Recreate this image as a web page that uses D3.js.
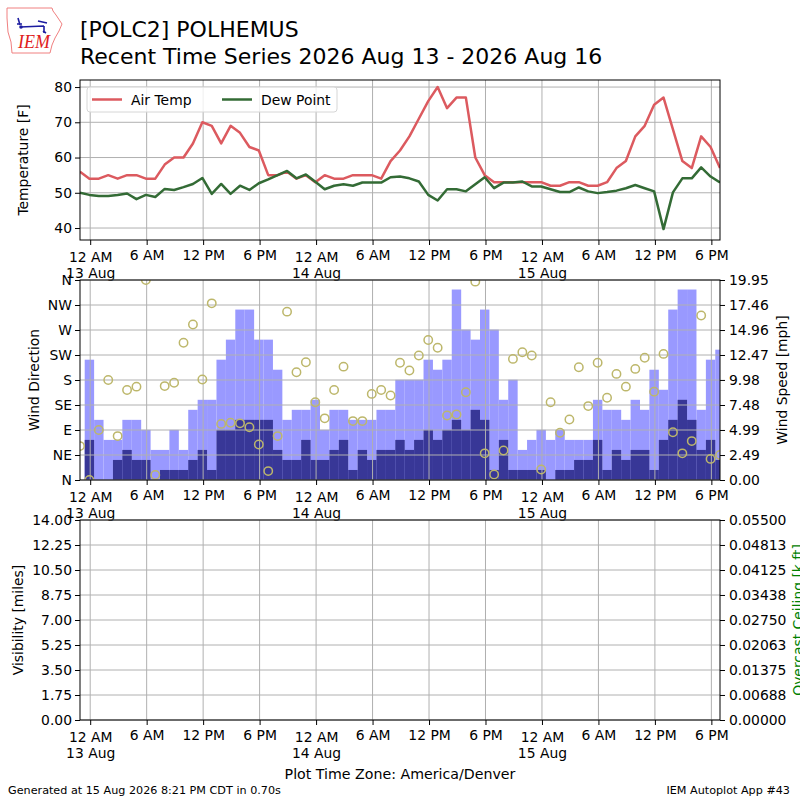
<!DOCTYPE html>
<html>
<head>
<meta charset="utf-8">
<script src="https://cdn.jsdelivr.net/npm/d3@7"></script>
<style>
  body { margin: 0; background: #ffffff; }
  svg { font-family: "DejaVu Sans", sans-serif; display: block; }
</style>
</head>
<body>
<div id="chart"></div>
<script>
// observation times, local (America/Denver) clock
const obsTimes = [
    "2026-08-12 22:55", "2026-08-12 23:55",
    "2026-08-13 00:55", "2026-08-13 01:55", "2026-08-13 02:55", "2026-08-13 03:55", "2026-08-13 04:55", "2026-08-13 05:55",
    "2026-08-13 06:55", "2026-08-13 07:55", "2026-08-13 08:55", "2026-08-13 09:55", "2026-08-13 10:55", "2026-08-13 11:55",
    "2026-08-13 12:55", "2026-08-13 13:55", "2026-08-13 14:55", "2026-08-13 15:55", "2026-08-13 16:55", "2026-08-13 17:55",
    "2026-08-13 18:55", "2026-08-13 19:55", "2026-08-13 20:55", "2026-08-13 21:55", "2026-08-13 22:55", "2026-08-13 23:55",
    "2026-08-14 00:55", "2026-08-14 01:55", "2026-08-14 02:55", "2026-08-14 03:55", "2026-08-14 04:55", "2026-08-14 05:55",
    "2026-08-14 06:55", "2026-08-14 07:55", "2026-08-14 08:55", "2026-08-14 09:55", "2026-08-14 10:55", "2026-08-14 11:55",
    "2026-08-14 12:55", "2026-08-14 13:55", "2026-08-14 14:55", "2026-08-14 15:55", "2026-08-14 16:55", "2026-08-14 17:55",
    "2026-08-14 18:55", "2026-08-14 19:55", "2026-08-14 20:55", "2026-08-14 21:55", "2026-08-14 22:55", "2026-08-14 23:55",
    "2026-08-15 00:55", "2026-08-15 01:55", "2026-08-15 02:55", "2026-08-15 03:55", "2026-08-15 04:55", "2026-08-15 05:55",
    "2026-08-15 06:55", "2026-08-15 07:55", "2026-08-15 08:55", "2026-08-15 09:55", "2026-08-15 10:55", "2026-08-15 11:55",
    "2026-08-15 12:55", "2026-08-15 13:55", "2026-08-15 14:55", "2026-08-15 15:55", "2026-08-15 16:55", "2026-08-15 17:55",
    "2026-08-15 18:55"
];

const airTemp = [
    56, 54, 54, 55, 54, 55, 55, 54, 54, 58, 60, 60, 64, 70, 69, 64, 69, 67, 63, 62,
    55, 55, 56, 54, 55, 53, 55, 54, 54, 55, 55, 55, 54, 59, 62, 66, 71, 76, 80, 74,
    77, 77, 60, 55, 53, 53, 53, 53, 53, 53, 52, 52, 53, 53, 52, 52, 53, 57, 59, 66,
    69, 75, 77, 68, 59, 57, 66, 63, 57
];

const dewPoint = [
    50.0, 49.4, 49.1, 49.1, 49.4, 49.8, 48.2, 49.4, 48.8, 51.1, 50.8, 51.6, 52.5, 54.2, 49.7, 52.5, 49.7, 52.0, 50.8, 52.7,
    53.8, 55.0, 56.2, 54.1, 55.2, 53.1, 51.0, 52.0, 52.4, 52.0, 52.9, 52.9, 52.9, 54.4, 54.6, 54.1, 53.2, 49.4, 47.8, 51.0,
    51.0, 50.4, 52.4, 54.4, 51.3, 52.9, 52.9, 53.2, 51.8, 51.8, 51.0, 50.2, 50.2, 51.5, 50.4, 49.9, 50.2, 50.6, 51.3, 52.2,
    51.3, 50.4, 39.7, 50.1, 54.1, 54.1, 57.2, 54.6, 52.9
];

// mph
const windSpeed = [
    0, 4, 0, 0, 2, 3, 2, 2, 0, 1, 1, 1, 2, 3, 1, 5, 5, 6, 6, 6,
    6, 3, 2, 2, 4, 2, 2, 3, 4, 1, 3, 2, 3, 3, 4, 3, 4, 5, 4, 5,
    6, 5, 7, 6, 1, 4, 1, 1, 1, 1, 0, 1, 1, 2, 2, 4, 1, 3, 2, 3,
    3, 1, 4, 6, 8, 6, 3, 4, 2
];

const windGust = [
    0, 12, 6, 4, 4, 6, 6, 5, 3, 3, 5, 3, 7, 8, 8, 12, 14, 17, 17, 14,
    14, 11, 6, 7, 7, 8, 5, 7, 7, 6, 6, 6, 7, 7, 10, 10, 10, 12, 11, 12,
    19, 15, 14, 17, 15, 8, 10, 3, 4, 5, 4, 5, 4, 4, 4, 8, 7, 7, 6, 8,
    7, 11, 9, 17, 19, 19, 7, 12, 13
];

// degrees
const windDir = [
    61, 0, 90, 180, 79, 162, 168, 360, 9, 169, 175, 247, 280, 181, 318, 101, 103, 102, 95, 64,
    16, 79, 303, 194, 212, 140, 111, 162, 204, 106, 106, 155, 162, 152, 211, 197, 224, 252, 238, 116,
    118, 158, 357, 48, 10, 53, 218, 230, 224, 19, 140, 85, 109, 203, 133, 211, 148, 191, 168, 200,
    220, 159, 227, 86, 48, 70, 296, 38, 45
];

const tempTicks = [40, 50, 60, 70, 80];
const dirTicks = ["N", "NE", "E", "SE", "S", "SW", "W", "NW", "N"];
const speedTicks = ["0.00", "2.49", "4.99", "7.48", "9.98", "12.47", "14.96", "17.46", "19.95"];
const visTicks = ["0.00", "1.75", "3.50", "5.25", "7.00", "8.75", "10.50", "12.25", "14.00"];
const ceilTicks = ["0.00000", "0.00688", "0.01375", "0.02063", "0.02750", "0.03438", "0.04125", "0.04813", "0.05500"];

const left = 80, right = 720;
const tempBox = {top: 80, bottom: 240};
const windBox = {top: 280, bottom: 480};
const visBox = {top: 520, bottom: 720};
const fontSize = 13.9;
const gridColor = "#b0b0b0";

const parseTime = d3.utcParse("%Y-%m-%d %H:%M");
const obs = obsTimes.map(function (s, i) {
    return {t: parseTime(s), tmpf: airTemp[i], dwpf: dewPoint[i],
        sknt: windSpeed[i], gust: windGust[i], drct: windDir[i]};
});

const svg = d3.select("#chart")
    .append("svg")
    .attr("width", 800)
    .attr("height", 800);

const x = d3.scaleUtc()
    .domain(d3.extent(obs, d => d.t))
    .range([left, right]);
const timeTicks = d3.utcHour.every(6).range(x.domain()[0], x.domain()[1]);

function hourLabel(d) {
    let h = d.getUTCHours();
    let h12 = h % 12 === 0 ? 12 : h % 12;
    return h12 + (h < 12 ? " AM" : " PM");
}

function addClip(id, box) {
    svg.append("defs").append("clipPath").attr("id", id)
        .append("rect")
        .attr("x", left).attr("y", box.top)
        .attr("width", right - left).attr("height", box.bottom - box.top);
}

function drawGrid(box, y, values) {
    let g = svg.append("g").attr("class", "grid");
    g.selectAll("line.v").data(timeTicks).join("line")
        .attr("class", "v")
        .attr("x1", d => x(d)).attr("x2", d => x(d))
        .attr("y1", box.top).attr("y2", box.bottom);
    g.selectAll("line.h").data(values).join("line")
        .attr("class", "h")
        .attr("x1", left).attr("x2", right)
        .attr("y1", d => y(d)).attr("y2", d => y(d));
    g.selectAll("line")
        .attr("stroke", gridColor)
        .attr("stroke-width", 1);
}

function drawFrame(box) {
    svg.append("rect")
        .attr("x", left).attr("y", box.top)
        .attr("width", right - left).attr("height", box.bottom - box.top)
        .attr("fill", "none")
        .attr("stroke", "#000")
        .attr("stroke-width", 1);
}

function styleAxis(ag) {
    ag.select(".domain").remove();
    ag.attr("font-family", null).attr("font-size", fontSize);
    ag.selectAll(".tick line").attr("stroke", "#000");
    ag.selectAll(".tick text").attr("fill", "#000");
}

function drawTimeAxis(box) {
    let axis = d3.axisBottom(x)
        .tickValues(timeTicks)
        .tickSize(5)
        .tickSizeOuter(0)
        .tickPadding(5)
        .tickFormat("");
    let ag = svg.append("g")
        .attr("transform", "translate(0," + box.bottom + ")")
        .call(axis);
    styleAxis(ag);
    ag.selectAll(".tick text").each(function (d) {
        let t = d3.select(this).attr("dy", null);
        if (d.getUTCHours() === 0) {
            t.append("tspan").attr("x", 0).attr("dy", "0.86em").text(hourLabel(d));
            t.append("tspan").attr("x", 0).attr("dy", "1.15em").text(d3.utcFormat("%-d %b")(d));
        } else {
            t.append("tspan").attr("x", 0).attr("dy", "0.71em").text(hourLabel(d));
        }
    });
}

function drawLeftAxis(y, values, labels) {
    let ag = svg.append("g")
        .attr("transform", "translate(" + left + ",0)")
        .call(d3.axisLeft(y).tickValues(values).tickSize(5).tickSizeOuter(0).tickPadding(3)
            .tickFormat((d, i) => labels[i]));
    styleAxis(ag);
}

function drawRightAxis(y, values, labels) {
    let ag = svg.append("g")
        .attr("transform", "translate(" + right + ",0)")
        .call(d3.axisRight(y).tickValues(values).tickSize(5).tickSizeOuter(0).tickPadding(4)
            .tickFormat((d, i) => labels[i]));
    styleAxis(ag);
}

function yLabel(text, cx, cy, color) {
    svg.append("text")
        .attr("transform", "translate(" + cx + "," + cy + ") rotate(-90)")
        .attr("text-anchor", "middle")
        .attr("dominant-baseline", "central")
        .attr("font-size", fontSize)
        .attr("fill", color || "#000")
        .text(text);
}

// ---- temperature panel
const yTemp = d3.scaleLinear().domain([36.6, 82]).range([tempBox.bottom, tempBox.top]);
addClip("clipTemp", tempBox);
drawGrid(tempBox, yTemp, tempTicks);

const tempLines = svg.append("g").attr("clip-path", "url(#clipTemp)");
tempLines.append("path")
    .datum(obs)
    .attr("fill", "none")
    .attr("stroke", "#dc5a5f")
    .attr("stroke-width", 2.5)
    .attr("stroke-linejoin", "round")
    .attr("d", d3.line().x(d => x(d.t)).y(d => yTemp(d.tmpf)));
tempLines.append("path")
    .datum(obs)
    .attr("fill", "none")
    .attr("stroke", "#336b35")
    .attr("stroke-width", 2.5)
    .attr("stroke-linejoin", "round")
    .attr("d", d3.line().x(d => x(d.t)).y(d => yTemp(d.dwpf)));

drawFrame(tempBox);
drawTimeAxis(tempBox);
drawLeftAxis(yTemp, tempTicks, tempTicks);
yLabel("Temperature [F]", 22.5, (tempBox.top + tempBox.bottom) / 2);

// legend
const legend = svg.append("g");
legend.append("rect")
    .attr("x", 87).attr("y", 87).attr("width", 250).attr("height", 25).attr("rx", 3)
    .attr("fill", "#fff").attr("fill-opacity", 0.8)
    .attr("stroke", "#d6d6d6");
[["Air Temp", "#dc5a5f", 92], ["Dew Point", "#336b35", 222]].forEach(function (item) {
    legend.append("line")
        .attr("x1", item[2]).attr("x2", item[2] + 30)
        .attr("y1", 99.5).attr("y2", 99.5)
        .attr("stroke", item[1]).attr("stroke-width", 2.5);
    legend.append("text")
        .attr("x", item[2] + 39).attr("y", 104.5)
        .attr("font-size", fontSize)
        .text(item[0]);
});

// ---- wind panel
const yDir = d3.scaleLinear().domain([0, 360]).range([windBox.bottom, windBox.top]);
const ySpeed = d3.scaleLinear().domain([0, 19.95]).range([windBox.bottom, windBox.top]);
const barW = x(d3.utcHour.offset(obs[0].t, 1)) - x(obs[0].t);
addClip("clipWind", windBox);

const bars = svg.append("g").attr("clip-path", "url(#clipWind)");
bars.selectAll("rect.gust").data(obs).join("rect")
    .attr("class", "gust")
    .attr("x", d => x(d.t) - barW / 2)
    .attr("width", barW)
    .attr("y", d => ySpeed(d.gust))
    .attr("height", d => ySpeed(0) - ySpeed(d.gust))
    .attr("fill", "#9999ff");
bars.selectAll("rect.sknt").data(obs).join("rect")
    .attr("class", "sknt")
    .attr("x", d => x(d.t) - barW / 2)
    .attr("width", barW)
    .attr("y", d => ySpeed(d.sknt))
    .attr("height", d => ySpeed(0) - ySpeed(d.sknt))
    .attr("fill", "#383797");

const dirValues = dirTicks.map((d, i) => i * 45);
drawGrid(windBox, yDir, dirValues);

svg.append("g").attr("clip-path", "url(#clipWind)")
    .selectAll("circle").data(obs).join("circle")
    .attr("cx", d => x(d.t))
    .attr("cy", d => yDir(d.drct))
    .attr("r", 4.2)
    .attr("fill", "none")
    .attr("stroke", "#bdb76b")
    .attr("stroke-width", 1.5);

drawFrame(windBox);
drawTimeAxis(windBox);
drawLeftAxis(yDir, dirValues, dirTicks);
drawRightAxis(ySpeed, speedTicks.map(Number), speedTicks);
yLabel("Wind Direction", 33.5, (windBox.top + windBox.bottom) / 2);
yLabel("Wind Speed [mph]", 781.5, (windBox.top + windBox.bottom) / 2);

// ---- visibility / ceiling panel (no reports)
const yVis = d3.scaleLinear().domain([0, 14]).range([visBox.bottom, visBox.top]);
const yCeil = d3.scaleLinear().domain([0, 0.055]).range([visBox.bottom, visBox.top]);
drawGrid(visBox, yVis, visTicks.map(Number));
drawFrame(visBox);
drawTimeAxis(visBox);
drawLeftAxis(yVis, visTicks.map(Number), visTicks);
drawRightAxis(yCeil, ceilTicks.map(Number), ceilTicks);
yLabel("Visibility [miles]", 18, (visBox.top + visBox.bottom) / 2);
yLabel("Overcast Ceiling [k ft]", 797.5, (visBox.top + visBox.bottom) / 2, "#008000");

// ---- titles and footer
svg.append("text").attr("x", 80).attr("y", 37).attr("font-size", 22)
    .text("[POLC2] POLHEMUS");
svg.append("text").attr("x", 80).attr("y", 64).attr("font-size", 22)
    .text("Recent Time Series 2026 Aug 13 - 2026 Aug 16");
svg.append("text").attr("x", 400).attr("y", 779).attr("font-size", 14.2)
    .attr("text-anchor", "middle")
    .text("Plot Time Zone: America/Denver");
svg.append("text").attr("x", 8).attr("y", 794).attr("font-size", 11.2)
    .text("Generated at 15 Aug 2026 8:21 PM CDT in 0.70s");
svg.append("text").attr("x", 790).attr("y", 794).attr("font-size", 11.2)
    .attr("text-anchor", "end")
    .text("IEM Autoplot App #43");

// ---- IEM logo
const logo = svg.append("g");
logo.append("path")
    .attr("d", "M7,8 L52,8 L53,11 L56,15 L62,24 L59,31 L55,38 L52,45 L50,53 L12,53 L11,42 L8,32 L7,18 Z")
    .attr("fill", "none")
    .attr("stroke", "#f08080")
    .attr("stroke-width", 1);
logo.append("path")
    .attr("d", "M20,27 L44,26 M44,26 L44,33 M38,21 L47,23 M18,18 L20,25 M17,24 L22,24 M43,31 L46,33")
    .attr("fill", "none")
    .attr("stroke", "#1c1ca0")
    .attr("stroke-width", 1.6);
logo.append("circle").attr("cx", 21).attr("cy", 27).attr("r", 1.8).attr("fill", "#1c1ca0");
logo.append("text")
    .attr("x", 18).attr("y", 48)
    .attr("font-family", "Liberation Serif, serif")
    .attr("font-style", "italic")
    .attr("font-size", 18)
    .attr("fill", "#e02020")
    .text("IEM");
</script>
</body>
</html>
